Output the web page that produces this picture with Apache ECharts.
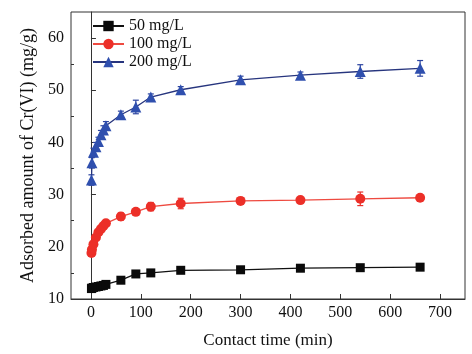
<!DOCTYPE html>
<html>
<head>
<meta charset="utf-8">
<title>Cr(VI) adsorption</title>
<script src="https://cdn.jsdelivr.net/npm/echarts@6/dist/echarts.min.js"></script>
</head>
<body style="margin:0;background:#fff">
<div id="main" style="width:472px;height:354px;"></div>
<script type="text/javascript">
// contact time (min)
var times = [1, 2, 5, 10, 15, 20, 25, 30, 60, 90, 120, 180, 300, 420, 540, 660];
// adsorbed amount (mg/g)
var q50 = [12.0, 12.1, 12.2, 12.3, 12.4, 12.5, 12.6, 12.8, 13.6, 14.8, 15.0, 15.5, 15.6, 15.9, 16.0, 16.1];
var q100 = [18.8, 19.5, 20.5, 21.8, 22.8, 23.4, 24.0, 24.5, 25.8, 26.7, 27.7, 28.3, 28.8, 28.95, 29.2, 29.4];
var q200 = [32.8, 36.1, 38.1, 39.2, 40.2, 41.5, 42.4, 43.2, 45.3, 46.8, 48.7, 50.1, 52.0, 52.9, 53.6, 54.2];
// error (+/-)
var e50 = [0.3, 0.3, 0.3, 0.3, 0.3, 0.3, 0.3, 0.3, 0.3, 0.3, 0.4, 0.3, 0.3, 0.3, 0.3, 0.6];
var e100 = [0.5, 0.5, 0.5, 0.5, 0.5, 0.5, 0.5, 0.5, 0.7, 0.6, 0.8, 1.0, 0.6, 0.5, 1.3, 0.6];
var e200 = [1.0, 1.0, 0.8, 0.8, 0.8, 0.8, 0.8, 0.8, 0.7, 1.3, 0.6, 0.6, 0.7, 0.6, 1.3, 1.5];
var xTicks = [0, 100, 200, 300, 400, 500, 600, 700];
var yTicks = [10, 20, 30, 40, 50, 60];
var yMinor = [15, 25, 35, 45, 55];

var font = '"Liberation Serif", "Times New Roman", serif';

function pts(q) {
  return times.map(function (t, i) { return [t, q[i]]; });
}
function errs(q, e) {
  return times.map(function (t, i) { return [t, q[i] - e[i], q[i] + e[i]]; });
}
function errorBar(color) {
  return function (params, api) {
    var x = api.value(0);
    var lo = api.coord([x, api.value(1)]);
    var hi = api.coord([x, api.value(2)]);
    var w = 3;
    var st = { stroke: color, lineWidth: 1.2 };
    return {
      type: 'group',
      children: [
        { type: 'line', shape: { x1: lo[0], y1: lo[1], x2: hi[0], y2: hi[1] }, style: st },
        { type: 'line', shape: { x1: lo[0] - w, y1: lo[1], x2: lo[0] + w, y2: lo[1] }, style: st },
        { type: 'line', shape: { x1: hi[0] - w, y1: hi[1], x2: hi[0] + w, y2: hi[1] }, style: st }
      ]
    };
  };
}

var myChart = echarts.init(document.getElementById('main'));
var option = {
  animation: false,
  grid: { left: 71, right: 7, top: 12, bottom: 54, show: true, borderColor: '#333', borderWidth: 1 },
  legend: {
    orient: 'vertical',
    left: 92,
    top: 18,
    padding: 0,
    itemWidth: 31,
    itemHeight: 13,
    itemGap: 2,
    textStyle: { fontFamily: font, fontSize: 16, color: '#111' },
    data: ['50 mg/L', '100 mg/L', '200 mg/L']
  },
  xAxis: {
    type: 'value',
    min: -40,
    max: 750,
    name: 'Contact time (min)',
    nameLocation: 'middle',
    nameGap: 33,
    nameTextStyle: { fontFamily: font, fontSize: 17, color: '#111' },
    splitLine: { show: false },
    axisLine: { onZero: false, lineStyle: { color: '#333' } },
    axisTick: { inside: true, length: 5, customValues: xTicks, lineStyle: { color: '#333' } },
    axisLabel: { customValues: xTicks, fontFamily: font, fontSize: 16, color: '#111', margin: 6 }
  },
  yAxis: [{
    type: 'value',
    min: 10,
    max: 65,
    name: 'Adsorbed amount of Cr(VI) (mg/g)',
    nameLocation: 'middle',
    nameGap: 34,
    nameTextStyle: { fontFamily: font, fontSize: 18, color: '#111' },
    splitLine: { show: false },
    axisLine: { show: true, lineStyle: { color: '#333' } },
    axisTick: { inside: true, length: 5, customValues: yTicks, lineStyle: { color: '#333' } },
    axisLabel: { customValues: yTicks, fontFamily: font, fontSize: 16, color: '#111', margin: 7 }
  }, {
    type: 'value',
    position: 'left',
    min: 10,
    max: 65,
    splitLine: { show: false },
    axisLine: { show: false },
    axisTick: { inside: true, length: 3, customValues: yMinor, lineStyle: { color: '#333' } },
    axisLabel: { show: false }
  }],
  series: [
    { type: 'custom', renderItem: errorBar('#111'), data: errs(q50, e50), encode: { x: 0, y: [1, 2] }, z: 1, silent: true },
    { type: 'custom', renderItem: errorBar('#e8302a'), data: errs(q100, e100), encode: { x: 0, y: [1, 2] }, z: 1, silent: true },
    { type: 'custom', renderItem: errorBar('#2c44a0'), data: errs(q200, e200), encode: { x: 0, y: [1, 2] }, z: 1, silent: true },
    {
      name: '50 mg/L', type: 'line', data: pts(q50), symbol: 'rect', symbolSize: 9,
      itemStyle: { color: '#0a0a0a' }, lineStyle: { color: '#111', width: 1.3 }, z: 3
    },
    {
      name: '100 mg/L', type: 'line', data: pts(q100), symbol: 'circle', symbolSize: 10,
      itemStyle: { color: '#ec2f28' }, lineStyle: { color: '#ee4a40', width: 1.3 }, z: 3
    },
    {
      name: '200 mg/L', type: 'line', data: pts(q200), symbol: 'triangle', symbolSize: 11,
      itemStyle: { color: '#2f4fae' }, lineStyle: { color: '#27357e', width: 1.3 }, z: 3
    }
  ]
};
myChart.setOption(option);
</script>
</body>
</html>
